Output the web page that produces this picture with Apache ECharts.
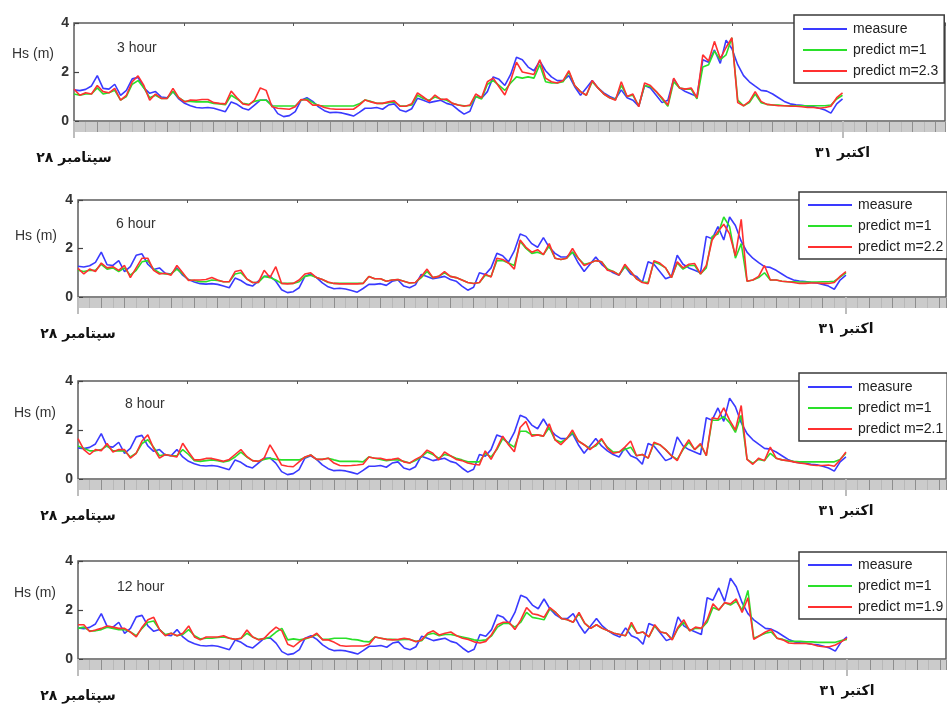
<!DOCTYPE html>
<html>
<head>
<meta charset="utf-8">
<script src="https://cdn.jsdelivr.net/npm/echarts@6/dist/echarts.min.js"></script>
<style>
  html, body { margin: 0; padding: 0; background: #fff; }
  #chart { width: 947px; height: 704px; }
</style>
</head>
<body>
<div id="chart"></div>
<script>
// Significant wave height, 28 Sep – 31 Oct, sampled every 6 hours (0.25 day)
const STEP_DAYS = 0.25;
const DATE_TICKS = [0, 33];
const DATE_LABELS = ['۲۸ سپتامبر', '۳۱ اکتبر'];
const Y_TICKS = [0, 2, 4];

// measured Hs (m)
const measure = [
  1.27,1.24,1.29,1.43,1.85,1.33,1.30,1.50,1.05,1.25,
  1.72,1.78,1.35,1.13,1.20,0.98,0.95,1.20,0.90,0.72,
  0.62,0.55,0.53,0.55,0.52,0.45,0.38,0.78,0.68,0.52,
  0.45,0.65,0.85,0.86,0.65,0.30,0.18,0.22,0.38,0.85,
  0.95,0.80,0.58,0.42,0.34,0.36,0.33,0.27,0.20,0.35,
  0.52,0.52,0.55,0.48,0.65,0.70,0.45,0.38,0.50,0.93,
  0.85,0.75,0.80,0.85,0.72,0.65,0.45,0.28,0.40,1.00,
  0.93,1.20,1.80,1.70,1.45,1.90,2.60,2.50,2.20,2.05,
  2.45,2.05,1.80,1.65,1.65,1.85,1.40,1.05,1.35,1.65,
  1.35,1.15,1.00,0.90,1.27,0.95,0.85,0.60,1.45,1.35,
  1.05,0.75,0.85,1.72,1.35,1.20,1.10,1.00,2.50,2.40,
  2.90,2.35,3.30,2.95,2.30,1.85,1.60,1.42,1.25,1.22,
  1.10,0.95,0.80,0.70,0.66,0.64,0.60,0.58,0.52,0.45,
  0.32,0.70,0.90
];

// 3 hour ahead
const h3_m1 = [
  1.10,1.05,1.10,1.10,1.35,1.10,1.15,1.25,0.85,1.00,
  1.50,1.65,1.35,0.95,1.05,0.92,0.92,1.20,0.95,0.80,
  0.80,0.78,0.78,0.78,0.72,0.70,0.66,1.05,0.90,0.72,
  0.68,0.80,0.86,0.85,0.62,0.61,0.61,0.61,0.61,0.85,
  0.90,0.75,0.63,0.61,0.61,0.61,0.61,0.61,0.61,0.70,
  0.86,0.80,0.72,0.72,0.75,0.78,0.62,0.61,0.65,1.05,
  0.92,0.85,0.98,0.90,0.85,0.72,0.65,0.62,0.62,1.00,
  0.90,1.50,1.65,1.45,1.25,1.55,1.80,1.75,1.80,1.75,
  2.30,1.60,1.55,1.55,1.60,2.00,1.45,1.20,1.05,1.60,
  1.35,1.10,0.95,0.88,1.45,1.00,1.05,0.62,1.45,1.40,
  1.20,0.90,0.60,1.60,1.35,1.30,1.30,0.90,2.20,2.30,
  2.85,2.50,2.70,3.40,0.85,0.62,0.75,1.10,0.75,0.68,
  0.65,0.65,0.62,0.62,0.62,0.62,0.62,0.62,0.62,0.62,
  0.65,0.90,1.05
];
const h3_m23 = [
  1.30,1.05,1.15,1.10,1.45,1.20,1.15,1.33,0.85,1.05,
  1.60,1.84,1.45,0.85,1.10,0.92,0.92,1.33,0.95,0.78,
  0.86,0.85,0.88,0.88,0.75,0.72,0.70,1.22,0.95,0.70,
  0.65,0.85,1.35,1.25,0.58,0.52,0.50,0.48,0.58,0.88,
  0.85,0.65,0.65,0.55,0.50,0.48,0.48,0.48,0.48,0.65,
  0.86,0.78,0.72,0.72,0.78,0.82,0.60,0.60,0.70,1.15,
  0.98,0.80,1.06,0.88,0.90,0.72,0.65,0.60,0.65,1.10,
  0.95,1.60,1.75,1.40,1.06,1.65,2.40,2.00,1.95,1.90,
  2.50,1.75,1.60,1.55,1.65,2.05,1.45,1.20,1.05,1.65,
  1.35,1.10,0.95,0.85,1.60,1.00,1.10,0.58,1.55,1.45,
  1.20,0.95,0.65,1.75,1.35,1.30,1.35,0.95,2.70,2.45,
  3.25,2.55,3.00,3.40,0.75,0.62,0.80,1.20,0.80,0.68,
  0.65,0.62,0.62,0.60,0.60,0.58,0.55,0.55,0.52,0.55,
  0.60,0.95,1.15
];

// 6 hour ahead
const h6_m1 = [
  1.10,1.05,1.10,1.10,1.35,1.15,1.20,1.05,1.20,0.90,
  1.10,1.45,1.50,1.15,1.00,0.95,0.95,1.15,0.95,0.70,
  0.68,0.63,0.63,0.70,0.68,0.63,0.63,0.95,1.00,0.75,
  0.60,0.60,0.85,0.80,0.70,0.56,0.56,0.56,0.63,0.85,
  0.90,0.80,0.72,0.60,0.56,0.56,0.56,0.56,0.56,0.56,
  0.85,0.75,0.75,0.65,0.70,0.72,0.65,0.58,0.60,0.80,
  1.05,0.80,0.85,1.00,0.85,0.80,0.70,0.60,0.56,0.60,
  0.90,0.85,1.50,1.50,1.40,1.30,2.30,2.00,1.80,1.85,
  1.75,2.10,1.60,1.55,1.60,1.85,1.60,1.35,1.40,1.50,
  1.45,1.15,1.05,0.92,1.25,1.05,0.75,0.62,0.60,1.45,
  1.35,1.20,0.80,1.40,1.15,1.30,1.30,0.95,1.20,2.50,
  2.60,3.30,2.90,1.60,2.20,0.65,0.70,0.80,1.00,0.70,
  0.70,0.65,0.63,0.63,0.62,0.62,0.62,0.62,0.63,0.63,
  0.65,0.82,1.00
];
const h6_m22 = [
  1.18,0.95,1.15,1.05,1.40,1.20,1.25,1.10,1.30,0.80,
  1.20,1.60,1.60,1.10,0.95,0.98,0.90,1.30,1.00,0.68,
  0.70,0.70,0.72,0.80,0.70,0.63,0.63,1.05,1.10,0.75,
  0.60,0.60,1.10,0.80,1.25,0.56,0.54,0.56,0.70,0.95,
  1.00,0.80,0.72,0.62,0.56,0.54,0.54,0.54,0.54,0.56,
  0.85,0.75,0.75,0.65,0.70,0.72,0.65,0.58,0.60,0.85,
  1.15,0.80,0.85,1.05,0.85,0.80,0.70,0.60,0.56,0.60,
  0.95,0.82,1.60,1.55,1.40,1.15,2.35,2.05,1.85,1.95,
  1.75,2.20,1.60,1.55,1.60,2.00,1.60,1.30,1.40,1.50,
  1.45,1.10,1.05,0.90,1.35,1.05,0.75,0.60,0.55,1.50,
  1.40,1.20,0.80,1.45,1.20,1.35,1.38,0.95,1.30,2.35,
  2.70,3.00,2.60,1.70,3.20,0.65,0.70,0.85,1.30,0.70,
  0.70,0.65,0.63,0.60,0.56,0.56,0.58,0.58,0.56,0.56,
  0.60,0.85,1.05
];

// 8 hour ahead
const h8_m1 = [
  1.35,1.25,1.15,1.15,1.20,1.35,1.15,1.15,1.15,0.90,
  1.05,1.45,1.60,1.30,0.95,1.00,0.95,0.95,1.20,1.00,
  0.75,0.72,0.75,0.78,0.75,0.70,0.75,0.90,1.10,0.90,
  0.75,0.72,0.80,0.85,0.80,0.78,0.78,0.78,0.78,0.88,
  0.98,0.80,0.80,0.85,0.78,0.72,0.72,0.72,0.72,0.70,
  0.90,0.85,0.80,0.75,0.78,0.78,0.72,0.65,0.75,0.90,
  1.10,1.00,0.85,1.00,0.95,0.85,0.78,0.70,0.70,0.70,
  1.05,0.90,1.20,1.65,1.45,1.30,1.95,1.95,1.80,1.80,
  1.75,2.10,1.60,1.50,1.65,1.90,1.55,1.40,1.25,1.35,
  1.60,1.30,1.10,1.10,1.20,1.30,0.95,1.00,0.85,1.45,
  1.40,1.20,0.95,0.80,1.20,1.50,1.20,1.40,0.95,2.40,
  2.40,2.55,2.30,1.90,2.60,0.80,0.65,0.80,0.75,1.05,
  0.85,0.78,0.75,0.72,0.70,0.70,0.70,0.70,0.70,0.70,
  0.70,0.80,1.05
];
const h8_m21 = [
  1.65,1.20,1.00,1.20,1.15,1.45,1.10,1.20,1.20,0.85,
  1.05,1.55,1.80,1.25,0.85,1.00,0.95,0.90,1.46,1.10,
  0.78,0.78,0.84,0.84,0.78,0.72,0.80,1.00,1.20,0.92,
  0.75,0.72,0.85,1.39,1.00,0.57,0.52,0.50,0.70,0.90,
  0.98,0.80,0.80,0.85,0.65,0.55,0.54,0.55,0.57,0.60,
  0.90,0.85,0.85,0.78,0.80,0.85,0.70,0.65,0.80,0.92,
  1.18,1.05,0.78,1.10,0.95,0.80,0.75,0.65,0.60,0.57,
  1.15,0.80,1.25,1.75,1.40,1.11,2.10,2.35,1.75,1.80,
  1.75,2.25,1.60,1.40,1.65,2.00,1.55,1.40,1.20,1.40,
  1.65,1.25,1.05,1.10,1.30,1.55,0.95,1.00,0.85,1.50,
  1.40,1.20,0.95,0.75,1.25,1.60,1.20,1.45,0.95,2.50,
  2.45,2.90,2.40,2.00,3.00,0.80,0.60,0.85,0.75,1.30,
  0.85,0.78,0.75,0.70,0.65,0.62,0.57,0.55,0.55,0.57,
  0.52,0.78,1.10
];

// 12 hour ahead
const h12_m1 = [
  1.25,1.30,1.15,1.15,1.20,1.30,1.25,1.20,1.20,1.10,
  0.95,1.25,1.50,1.55,1.20,1.00,1.05,0.95,1.00,1.20,
  0.95,0.82,0.85,0.85,0.88,0.90,0.85,0.80,0.85,1.05,
  0.90,0.80,0.82,0.90,1.10,1.25,0.78,0.82,0.78,0.82,
  0.90,1.00,0.80,0.80,0.85,0.85,0.85,0.80,0.78,0.72,
  0.70,0.90,0.85,0.80,0.80,0.78,0.80,0.80,0.72,0.75,
  1.00,1.05,0.95,1.00,1.00,0.95,0.90,0.85,0.78,0.75,
  0.78,0.95,1.30,1.45,1.45,1.30,1.50,1.90,1.70,1.65,
  1.60,2.05,1.90,1.65,1.60,1.50,1.85,1.45,1.25,1.40,
  1.25,1.15,1.05,1.00,0.95,1.40,1.05,1.10,0.90,1.35,
  1.10,1.05,0.80,1.25,1.50,1.15,1.25,1.25,1.50,2.10,
  2.00,2.30,2.20,2.35,2.00,2.80,0.85,0.95,1.05,1.10,
  0.85,0.80,0.72,0.72,0.72,0.70,0.70,0.68,0.68,0.68,
  0.68,0.75,0.80
];
const h12_m19 = [
  1.40,1.40,1.12,1.18,1.25,1.35,1.30,1.25,1.25,1.10,
  0.90,1.30,1.60,1.70,1.20,0.95,1.05,0.95,1.05,1.35,
  0.90,0.78,0.90,0.90,0.90,0.95,0.85,0.80,0.85,1.18,
  0.90,0.78,0.85,1.10,1.30,1.15,0.60,0.50,0.70,0.85,
  0.90,1.05,0.78,0.78,0.68,0.55,0.52,0.53,0.53,0.53,
  0.60,0.90,0.85,0.80,0.78,0.80,0.85,0.80,0.70,0.78,
  1.05,1.15,0.98,1.05,1.10,0.95,0.85,0.80,0.70,0.65,
  0.72,1.00,1.40,1.50,1.50,1.20,1.60,2.10,1.85,1.80,
  1.70,2.10,1.90,1.65,1.60,1.50,1.90,1.45,1.25,1.40,
  1.25,1.15,1.05,1.00,0.95,1.50,1.05,1.10,0.90,1.40,
  1.10,1.05,0.78,1.30,1.60,1.15,1.30,1.25,1.60,2.25,
  2.00,2.30,2.25,2.45,1.90,2.50,0.80,0.95,1.10,1.20,
  0.85,0.78,0.65,0.63,0.63,0.63,0.60,0.53,0.50,0.50,
  0.57,0.70,0.85
];

const SERIES_NAMES = ['measure', 'predict m=1'];
const COLORS = { measure: '#3a3aff', m1: '#2ae02a', m: '#ff3030' };
const FONT = '"Liberation Sans", Arial, Helvetica, sans-serif';
const DATE_FONT = '"DejaVu Sans", sans-serif';

// panel layout
const panels = [
  { title: '3 hour',  m: 'predict m=2.3', m1: h3_m1,  mv: h3_m23,
    left: 74, top: 23,  width: 871, height: 98, xMax: 37.4,
    legend: { left: 794, top: 15, pad: [6, 6, 4, 9] },
    titlePos: [117, 41], hsPos: [12, 47] },
  { title: '6 hour',  m: 'predict m=2.2', m1: h6_m1,  mv: h6_m22,
    left: 78, top: 200, width: 868, height: 97, xMax: 37.3,
    legend: { left: 799, top: 192, pad: [5, 4, 4, 9] },
    titlePos: [116, 217], hsPos: [15, 229] },
  { title: '8 hour',  m: 'predict m=2.1', m1: h8_m1,  mv: h8_m21,
    left: 78, top: 381, width: 868, height: 98, xMax: 37.3,
    legend: { left: 799, top: 373, pad: [6, 4, 4, 9] },
    titlePos: [125, 397], hsPos: [14, 406] },
  { title: '12 hour', m: 'predict m=1.9', m1: h12_m1, mv: h12_m19,
    left: 78, top: 561, width: 868, height: 98, xMax: 37.25,
    legend: { left: 799, top: 552, pad: [5, 4, 4, 9] },
    titlePos: [117, 580], hsPos: [14, 586] }
];

const toPairs = arr => arr.map((v, k) => [k * STEP_DAYS, v]);

const grid = [], xAxis = [], yAxis = [], series = [], legend = [], title = [];

panels.forEach((p, i) => {
  grid.push({
    left: p.left, top: p.top, width: p.width, height: p.height,
    show: true, borderColor: '#5c5c5c', borderWidth: 1.5, backgroundColor: 'transparent'
  });

  const base = { gridIndex: i, type: 'value', min: 0, max: p.xMax, splitLine: { show: false } };
  const mainIdx = xAxis.length;
  // data axis
  xAxis.push(Object.assign({}, base, {
    position: 'bottom', axisLine: { show: false }, axisTick: { show: false }, axisLabel: { show: false }
  }));
  // small ticks along the top frame
  xAxis.push(Object.assign({}, base, {
    position: 'top', interval: 33 / 7, axisLine: { show: false },
    axisTick: { show: true, inside: true, length: 3, lineStyle: { color: '#555', width: 1 } },
    axisLabel: { show: false }
  }));
  // grey time strip
  xAxis.push(Object.assign({}, base, {
    position: 'bottom', offset: 6, z: 1,
    axisLine: { show: true, symbol: 'none', lineStyle: { color: '#cbcbcb', width: 10, cap: 'butt' } },
    axisTick: { show: false }, axisLabel: { show: false }
  }));
  // day ticks drawn in the strip
  xAxis.push(Object.assign({}, base, {
    position: 'bottom', offset: 1, interval: 1, z: 2,
    axisLine: { show: false },
    axisTick: { show: true, length: 10, lineStyle: { color: '#8e8e8e', width: 1 } },
    minorTick: { show: true, splitNumber: 2, length: 10, lineStyle: { color: '#b8b8b8', width: 1 } },
    axisLabel: { show: false }
  }));
  // start / end dates
  xAxis.push(Object.assign({}, base, {
    position: 'bottom', offset: 0, z: 3,
    axisLine: { show: false },
    axisTick: { show: true, customValues: DATE_TICKS, length: 17,
                lineStyle: { color: '#bdbdbd', width: 2, cap: 'butt' } },
    axisLabel: {
      show: true, customValues: DATE_TICKS, margin: 25,
      formatter: v => v === DATE_TICKS[0] ? '{l|' + DATE_LABELS[0] + '}' : '{r|' + DATE_LABELS[1] + '}',
      rich: {
        l: { fontFamily: DATE_FONT, fontWeight: 'bold', fontSize: 14, color: '#111', padding: [5, 0, 0, 0] },
        r: { fontFamily: DATE_FONT, fontWeight: 'bold', fontSize: 14, color: '#111' }
      }
    }
  }));

  yAxis.push({
    gridIndex: i, type: 'value', min: Y_TICKS[0], max: Y_TICKS[Y_TICKS.length - 1], interval: 2,
    axisLine: { show: false },
    axisTick: { show: true, inside: true, length: 5, lineStyle: { color: '#444', width: 1.2 } },
    axisLabel: { fontFamily: FONT, fontSize: 14, fontWeight: 'bold', color: '#333', margin: 5 },
    splitLine: { show: false }
  });

  const common = { type: 'line', xAxisIndex: mainIdx, yAxisIndex: i, showSymbol: false, symbol: 'none',
                   animation: false, z: 2 };
  series.push(Object.assign({}, common, { name: SERIES_NAMES[0], data: toPairs(measure),
    color: COLORS.measure, lineStyle: { color: COLORS.measure, width: 1.6 } }));
  series.push(Object.assign({}, common, { name: SERIES_NAMES[1], data: toPairs(p.m1),
    color: COLORS.m1, lineStyle: { color: COLORS.m1, width: 1.6 } }));
  series.push(Object.assign({}, common, { name: p.m, data: toPairs(p.mv),
    color: COLORS.m, lineStyle: { color: COLORS.m, width: 1.6 } }));

  legend.push({
    data: [SERIES_NAMES[0], SERIES_NAMES[1], p.m],
    left: p.legend.left, top: p.legend.top, orient: 'vertical',
    icon: 'rect', itemWidth: 44, itemHeight: 2, itemGap: 5,
    padding: p.legend.pad, backgroundColor: '#fff', borderColor: '#3a3a3a', borderWidth: 1.5,
    borderRadius: 0, selectedMode: false, z: 10,
    textStyle: { fontFamily: FONT, fontSize: 14, color: '#222', lineHeight: 16, padding: [0, 0, 0, 1] }
  });

  title.push({ text: p.title, left: p.titlePos[0], top: p.titlePos[1], padding: 0,
    textStyle: { fontFamily: FONT, fontSize: 14, fontWeight: 'normal', color: '#333' } });
  title.push({ text: 'Hs (m)', left: p.hsPos[0], top: p.hsPos[1], padding: 0,
    textStyle: { fontFamily: FONT, fontSize: 14, fontWeight: 'normal', color: '#333' } });
});

const chart = echarts.init(document.getElementById('chart'), null, { renderer: 'canvas' });
chart.setOption({
  animation: false,
  backgroundColor: '#fff',
  title, grid, xAxis, yAxis, series, legend
});
</script>
</body>
</html>
